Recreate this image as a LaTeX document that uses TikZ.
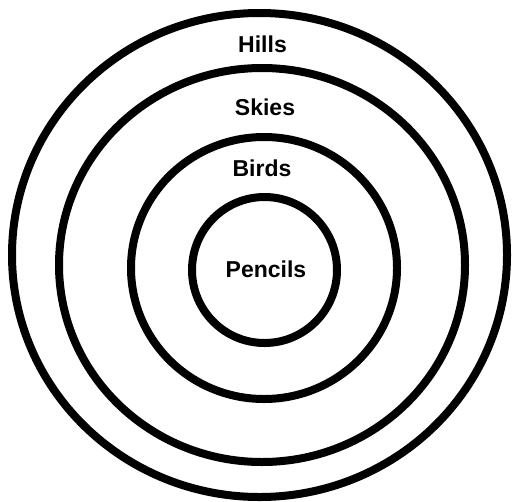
\documentclass[tikz,border=0pt]{standalone}
\usepackage{fontspec}
\setmainfont{Liberation Sans}
\begin{document}
\begin{tikzpicture}[x=1pt,y=1pt,
  ring/.style={draw=black,line width=8pt},
  lbl/.style={anchor=base,inner sep=0pt,font=\fontsize{23}{28}\selectfont\bfseries}]
\useasboundingbox[fill=white] (0,0) rectangle (513,-501);
\draw[ring] (259.5,-255) ellipse [x radius=247.5, y radius=242];
\draw[ring] (262,-265) ellipse [x radius=203, y radius=197];
\draw[ring] (264,-268) ellipse [x radius=133, y radius=131];
\draw[ring] (264.5,-270) ellipse [x radius=72.5, y radius=73];
\node[lbl] (hills) at (262.5,-52) {Hills};
\node[lbl] (skies) at (265,-115) {Skies};
\node[lbl] (birds) at (262,-176) {Birds};
\node[lbl] (pencils) at (266,-277) {Pencils};
\end{tikzpicture}
\end{document}
